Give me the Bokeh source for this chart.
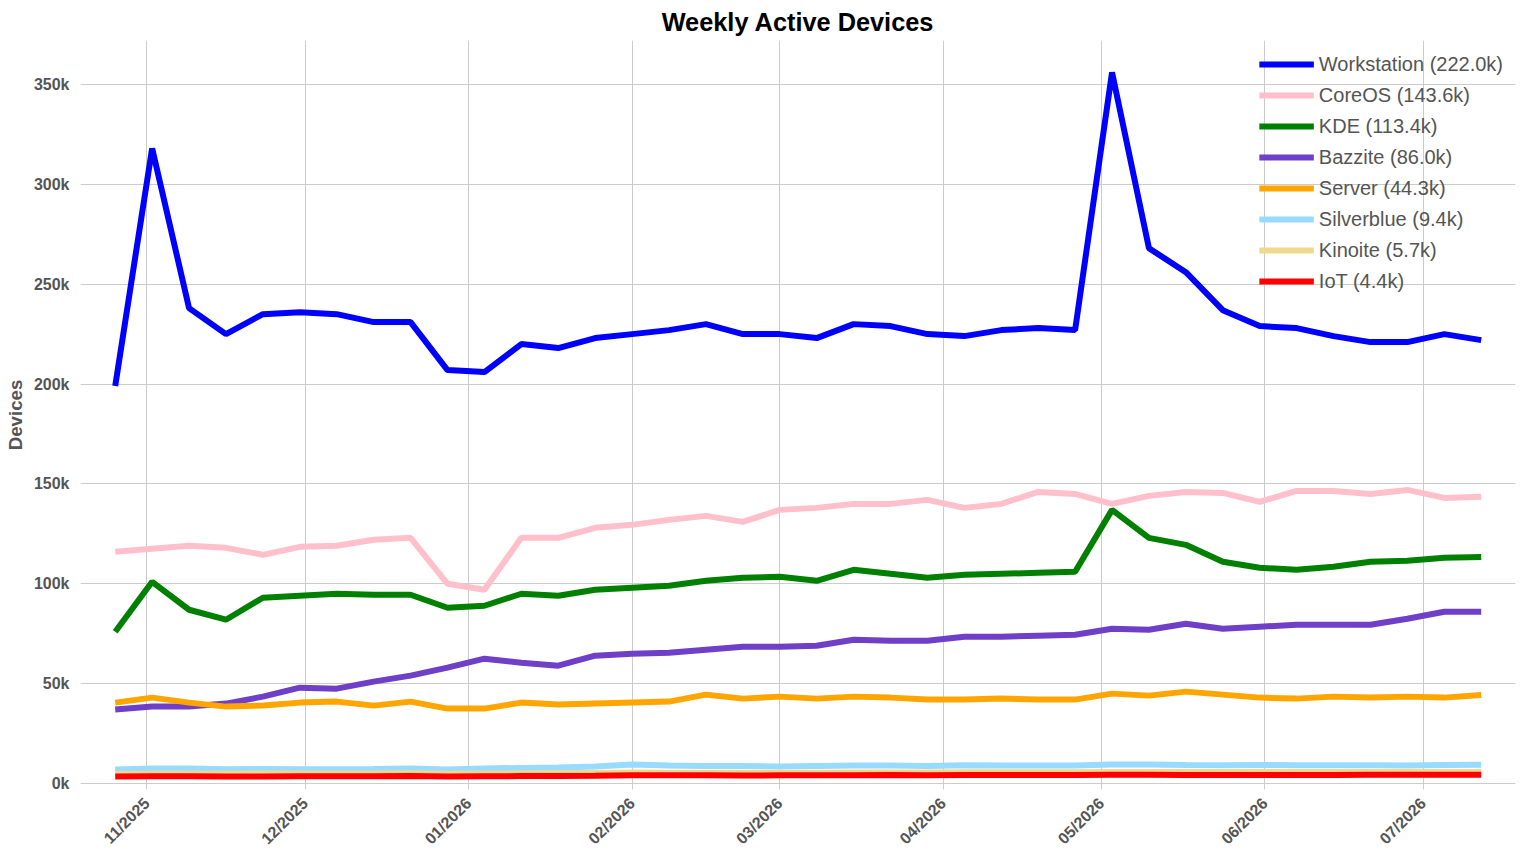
import datetime as dt
from bokeh.plotting import figure
from bokeh.models import DatetimeTickFormatter, FixedTicker, Legend, CustomJSTickFormatter, Range1d
from bokeh.embed import file_html
from bokeh.resources import INLINE
import math

start = dt.datetime(2025, 10, 26)
dates = [start + dt.timedelta(days=7 * i) for i in range(38)]

workstation = [199, 318, 238, 225, 235, 236, 235, 231, 231, 207, 206, 220, 218, 223, 225, 227, 230, 225, 225, 223, 230, 229, 225, 224, 227, 228, 227, 356, 268, 256, 237, 229, 228, 224, 221, 221, 225, 222]
coreos = [116, 117.5, 119, 118, 114.5, 118.5, 119, 122, 123, 100, 97, 123, 123, 128, 129.5, 132, 134, 131, 137, 138, 140, 140, 142, 138, 140, 146, 145, 140, 144, 146, 145.5, 141, 146.5, 146.5, 145, 147, 143, 143.6]
kde = [76, 101, 87, 82, 93, 94, 95, 94.5, 94.5, 88, 89, 95, 94, 97, 98, 99, 101.5, 103, 103.5, 101.5, 107, 105, 103, 104.5, 105, 105.5, 106, 137, 123, 119.5, 111, 108, 107, 108.5, 111, 111.5, 113, 113.4]
bazzite = [37, 38.5, 38.5, 40, 43.5, 48, 47.5, 51, 54, 58, 62.5, 60.5, 59, 64, 65, 65.5, 67, 68.5, 68.5, 69, 72, 71.5, 71.5, 73.5, 73.5, 74, 74.5, 77.5, 77, 80, 77.5, 78.5, 79.5, 79.5, 79.5, 82.5, 86, 86]
server = [40.5, 43, 40.5, 38.5, 39, 40.5, 41, 39, 41, 37.5, 37.5, 40.5, 39.5, 40, 40.5, 41, 44.5, 42.5, 43.5, 42.5, 43.5, 43, 42, 42, 42.5, 42, 42, 45, 44, 46, 44.5, 43, 42.5, 43.5, 43, 43.5, 43, 44.3]
silverblue = [7, 7.5, 7.5, 7.2, 7.3, 7.2, 7.2, 7.3, 7.5, 7, 7.5, 7.8, 8, 8.5, 9.5, 9, 8.8, 8.8, 8.5, 8.8, 9, 9, 8.8, 9.2, 9, 9, 9, 9.5, 9.5, 9.3, 9.2, 9.3, 9.2, 9.2, 9.2, 9, 9.3, 9.4]
kinoite = [4.8, 4.9, 4.9, 4.9, 5.0, 5.0, 5.0, 5.0, 5.1, 4.9, 5.0, 5.1, 5.2, 5.3, 5.5, 5.4, 5.4, 5.4, 5.4, 5.4, 5.5, 5.5, 5.5, 5.6, 5.6, 5.6, 5.6, 5.8, 5.8, 5.7, 5.7, 5.7, 5.7, 5.7, 5.7, 5.7, 5.7, 5.7]
iot = [3.5, 3.6, 3.6, 3.5, 3.5, 3.6, 3.6, 3.6, 3.7, 3.5, 3.6, 3.7, 3.8, 3.9, 4.1, 4.1, 4.1, 4.0, 4.1, 4.1, 4.1, 4.2, 4.1, 4.2, 4.2, 4.2, 4.2, 4.4, 4.4, 4.3, 4.3, 4.3, 4.3, 4.3, 4.4, 4.4, 4.4, 4.4]

series = [
    ("Workstation (222.0k)", workstation, "#0000ff"),
    ("CoreOS (143.6k)", coreos, "#ffc0cb"),
    ("KDE (113.4k)", kde, "#008000"),
    ("Bazzite (86.0k)", bazzite, "#6f3fc8"),
    ("Server (44.3k)", server, "#ffa500"),
    ("Silverblue (9.4k)", silverblue, "#99daff"),
    ("Kinoite (5.7k)", kinoite, "#f0d98c"),
    ("IoT (4.4k)", iot, "#ff0000"),
]
month_ticks = [dt.datetime(2025, 11, 1), dt.datetime(2025, 12, 1)] + [dt.datetime(2026, m, 1) for m in range(1, 8)]

def ms(d):
    return (d - dt.datetime(1970, 1, 1)).total_seconds() * 1000

p = figure(width=1520, height=856, x_axis_type="datetime", output_backend="svg", toolbar_location=None,
           title="Weekly Active Devices",
           x_range=Range1d(ms(dt.datetime(2025, 10, 19, 10)), ms(dt.datetime(2026, 7, 18, 12))),
           y_range=Range1d(-3000, 372000))
p.title.align = "center"
p.title.text_font = "Liberation Sans"
p.title.text_font_size = "19pt"
p.title.text_color = "#000000"
p.outline_line_color = None
p.min_border_left = 80
p.min_border_top = 8

items = []
for name, vals, col in series:
    r = p.line(dates, [v * 1000 for v in vals], line_color=col, line_width=6)
    items.append((name, [r]))
legend = Legend(items=items, location="top_right", border_line_color=None, background_fill_alpha=0,
                label_text_font="Liberation Sans", label_text_font_size="15pt", label_text_color="#555555",
                glyph_width=55, glyph_height=24, label_height=24, spacing=7, margin=12)
p.add_layout(legend)

p.xaxis.ticker = FixedTicker(ticks=[ms(d) for d in month_ticks])
p.xaxis.formatter = DatetimeTickFormatter(months="%m/%Y", days="%m/%Y")
p.xaxis.major_label_orientation = math.pi / 4
p.yaxis.ticker = FixedTicker(ticks=[i * 50000 for i in range(8)])
p.yaxis.formatter = CustomJSTickFormatter(code="return (tick/1000).toFixed(0) + 'k';")
p.yaxis.axis_label = "Devices"
for ax in (p.xaxis, p.yaxis):
    ax.axis_line_color = None
    ax.major_tick_line_color = None
    ax.minor_tick_line_color = None
    ax.major_label_text_font = "Liberation Sans"
    ax.major_label_text_font_style = "bold"
    ax.major_label_text_font_size = "12pt"
    ax.major_label_text_color = "#555555"
p.yaxis.axis_label_text_font = "Liberation Sans"
p.yaxis.axis_label_text_font_size = "14pt"
p.yaxis.axis_label_text_font_style = "bold"
p.yaxis.axis_label_text_color = "#555555"
p.xgrid.grid_line_color = "#cccccc"
p.ygrid.grid_line_color = "#cccccc"

open("out.html", "w").write(file_html(p, INLINE))
